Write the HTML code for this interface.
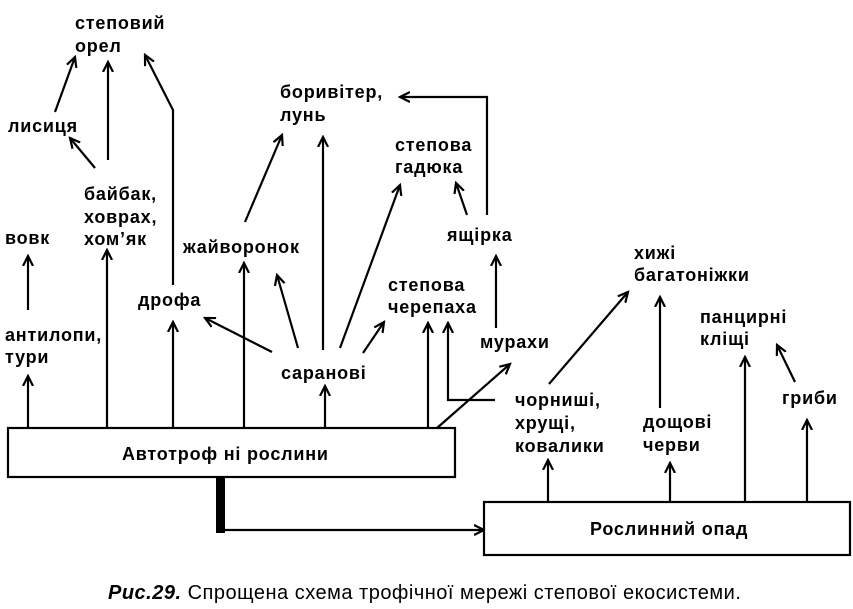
<!DOCTYPE html>
<html><head><meta charset="utf-8"><style>
body{margin:0;background:#fff}
svg{display:block}
text{font-family:"Liberation Sans",sans-serif;font-weight:bold;font-size:18px;letter-spacing:0.8px;fill:#000}
</style></head><body>
<svg width="853" height="609" viewBox="0 0 853 609" xmlns="http://www.w3.org/2000/svg">
<defs><marker id="a" markerWidth="12" markerHeight="12" refX="10" refY="6" orient="auto" markerUnits="userSpaceOnUse"><path d="M0,1 L10,6 L0,11" fill="none" stroke="#000" stroke-width="2.2"/></marker></defs>
<g stroke="#000" stroke-width="2.2" fill="none" marker-end="url(#a)">
<line x1="28" y1="428" x2="28" y2="376"/>
<line x1="28" y1="310" x2="28" y2="256"/>
<line x1="107" y1="428" x2="107" y2="250"/>
<line x1="173" y1="428" x2="173" y2="322"/>
<line x1="244" y1="428" x2="244" y2="263"/>
<line x1="325" y1="428" x2="325" y2="386"/>
<line x1="428" y1="428" x2="428" y2="323"/>
<line x1="437" y1="428" x2="510" y2="364"/>
<polyline points="495,400 448,400 448,323"/>
<line x1="55" y1="112" x2="75" y2="57"/>
<line x1="95" y1="168" x2="70" y2="138"/>
<line x1="108" y1="160" x2="108" y2="62"/>
<polyline points="173,285 173,110 145,55"/>
<line x1="245" y1="222" x2="282" y2="135"/>
<line x1="323" y1="350" x2="323" y2="137"/>
<line x1="298" y1="348" x2="277" y2="275"/>
<line x1="272" y1="352" x2="205" y2="318"/>
<line x1="340" y1="348" x2="400" y2="185"/>
<line x1="363" y1="353" x2="384" y2="322"/>
<line x1="467" y1="215" x2="456" y2="183"/>
<polyline points="487,215 487,97 400,97"/>
<line x1="496" y1="328" x2="496" y2="256"/>
<line x1="549" y1="384" x2="628" y2="292"/>
<line x1="660" y1="408" x2="660" y2="297"/>
<line x1="548" y1="502" x2="548" y2="460"/>
<line x1="670" y1="502" x2="670" y2="463"/>
<line x1="745" y1="502" x2="745" y2="357"/>
<line x1="807" y1="502" x2="807" y2="420"/>
<line x1="795" y1="382" x2="777" y2="345"/>
<polyline points="222,530 484,530"/>
</g>
<rect x="8" y="428" width="447" height="49" fill="#fff" stroke="#000" stroke-width="2.2"/>
<rect x="484" y="502" width="366" height="53" fill="#fff" stroke="#000" stroke-width="2.2"/>
<rect x="216" y="477" width="9" height="56" fill="#000"/>
<text x="75" y="29">степовий</text><text x="75" y="52">орел</text>
<text x="8" y="132">лисиця</text>
<text x="84" y="200">байбак,</text><text x="84" y="223">ховрах,</text><text x="84" y="245">хом’як</text>
<text x="5" y="244">вовк</text>
<text x="5" y="341">антилопи,</text><text x="5" y="363">тури</text>
<text x="138" y="306">дрофа</text>
<text x="183" y="253">жайворонок</text>
<text x="280" y="98">боривітер,</text><text x="280" y="121">лунь</text>
<text x="395" y="151">степова</text><text x="395" y="173">гадюка</text>
<text x="447" y="241">ящірка</text>
<text x="388" y="291">степова</text><text x="388" y="313">черепаха</text>
<text x="281" y="379">саранові</text>
<text x="480" y="348">мурахи</text>
<text x="634" y="259">хижі</text><text x="634" y="281">багатоніжки</text>
<text x="700" y="323">панцирні</text><text x="700" y="345">кліщі</text>
<text x="782" y="404">гриби</text>
<text x="515" y="406">чорниші,</text><text x="515" y="429">хрущі,</text><text x="515" y="452">ковалики</text>
<text x="643" y="428">дощові</text><text x="643" y="451">черви</text>
<text x="122" y="460">Автотроф ні рослини</text>
<text x="590" y="535">Рослинний опад</text>
<text x="108" y="599" style="font-weight:normal;font-size:20px;letter-spacing:0.5px"><tspan font-style="italic" font-weight="bold">Рис.29.</tspan> Спрощена схема трофічної мережі степової екосистеми.</text>
</svg>
</body></html>
